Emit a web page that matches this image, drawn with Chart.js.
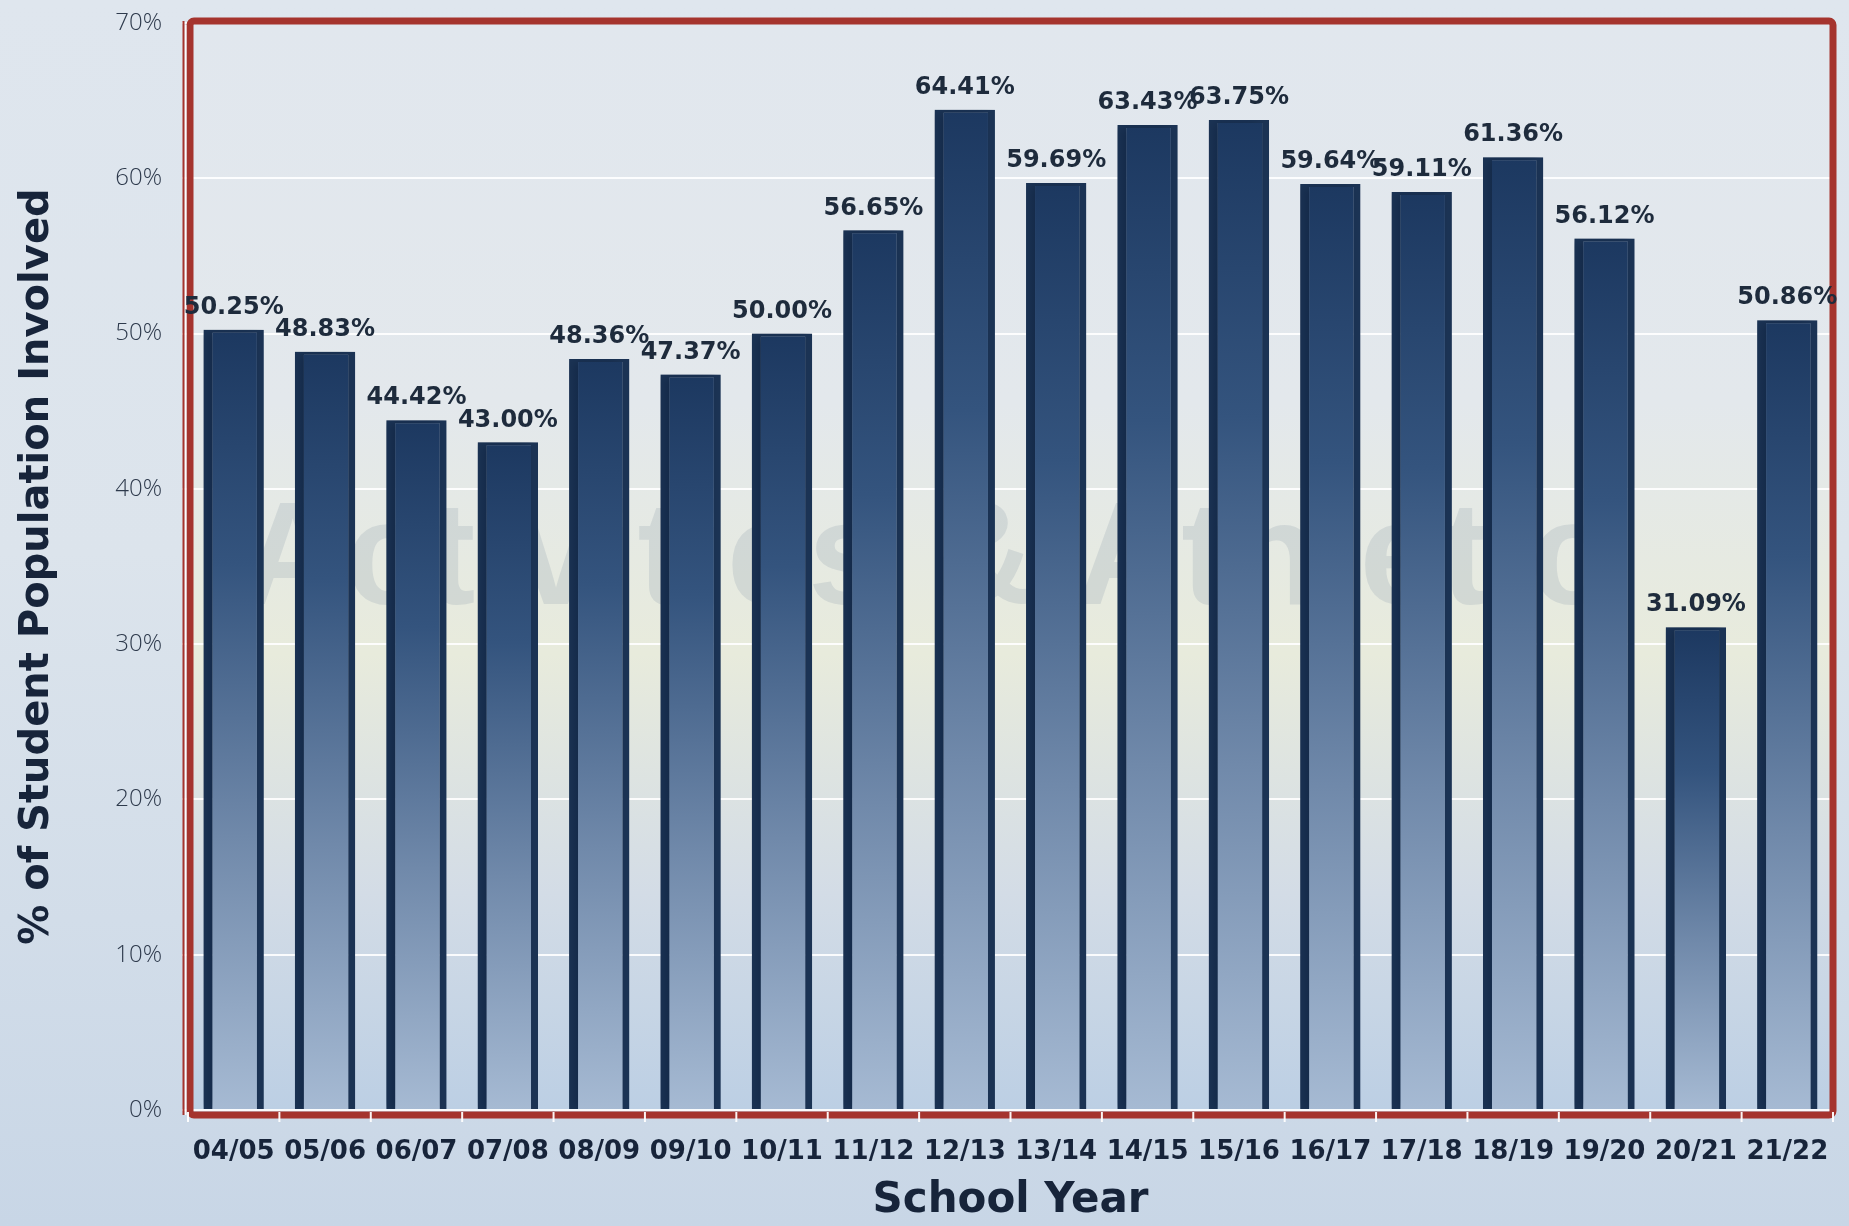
<!DOCTYPE html>
<html><head><meta charset="utf-8">
<script src="https://cdn.jsdelivr.net/npm/chart.js@4/dist/chart.umd.min.js"></script>
<style>
html,body{margin:0;padding:0;}
body{width:1849px;height:1226px;overflow:hidden;background:linear-gradient(180deg,#dfe6ee 0%,#dce4ec 45%,#d2dde9 75%,#c8d6e6 100%);}
#wrap{position:absolute;left:0;top:0;width:1849px;height:1226px;}
</style></head><body><div id="wrap"><canvas id="c"></canvas></div>
<script>
const categories = ['04/05','05/06','06/07','07/08','08/09','09/10','10/11','11/12','12/13','13/14','14/15','15/16','16/17','17/18','18/19','19/20','20/21','21/22'];
const values = [50.25,48.83,44.42,43.00,48.36,47.37,50.00,56.65,64.41,59.69,63.43,63.75,59.64,59.11,61.36,56.12,31.09,50.86];
const yTickValues = [0,10,20,30,40,50,60,70];
const xTitle = 'School Year';
const yTitle = '% of Student Population Involved';
const watermark = 'Activities & Athletic';

const BAR_EDGE = '#1b3354';

function barFill(context){
  const chart = context.chart;
  const a = chart.chartArea;
  if (!a || !chart.scales.y) return '#3d5d85';
  const v = context.raw;
  const yTop = chart.scales.y.getPixelForValue(v);
  const g = chart.ctx.createLinearGradient(0, yTop, 0, a.bottom);
  g.addColorStop(0, '#1c3860');
  g.addColorStop(0.3, '#34547e');
  g.addColorStop(0.65, '#7089aa');
  g.addColorStop(1, '#a6bad3');
  return g;
}

const deco = {
  id: 'deco',
  beforeDraw(chart){
    const {ctx, chartArea:a} = chart;
    const g = ctx.createLinearGradient(0, a.top, 0, a.bottom);
    g.addColorStop(0, '#e1e7ee');
    g.addColorStop(0.35, '#e3e8ec');
    g.addColorStop(0.58, '#e8ebdc');
    g.addColorStop(0.8, '#d3dce6');
    g.addColorStop(1, '#bccfe4');
    ctx.save();
    ctx.fillStyle = g;
    ctx.fillRect(a.left, a.top, a.right - a.left, a.bottom - a.top);
    ctx.restore();
  },
  beforeDatasetsDraw(chart){
    const {ctx} = chart;
    ctx.save();
    ctx.font = 'bold 146px "Liberation Sans", Arial, sans-serif';
    ctx.fillStyle = 'rgba(165,176,188,0.32)';
    ctx.textAlign = 'left';
    ctx.textBaseline = 'alphabetic';
    ctx.fillText(watermark, 240, 604);
    ctx.restore();
    ctx.save();
    ctx.shadowColor = 'rgba(15,35,65,0.6)';
    ctx.shadowBlur = 9;
    ctx.shadowOffsetX = -5;
    ctx.shadowOffsetY = 0;
  },
  afterDatasetsDraw(chart){
    const {ctx, chartArea:a} = chart;
    ctx.restore();
    // frame
    ctx.save();
    ctx.strokeStyle = '#a5342e';
    ctx.lineWidth = 7;
    ctx.lineJoin = 'round';
    ctx.beginPath();
    ctx.roundRect(a.left + 2, a.top - 2, a.right - a.left - 2, a.bottom - a.top + 7, 4);
    ctx.stroke();
    ctx.lineWidth = 2;
    ctx.strokeStyle = 'rgba(255,255,255,0.9)';
    ctx.beginPath();
    ctx.moveTo(a.left - 2.5, a.top + 2);
    ctx.lineTo(a.left - 2.5, a.bottom + 5);
    ctx.stroke();
    ctx.strokeStyle = '#a5342e';
    ctx.beginPath();
    ctx.moveTo(a.left - 4.5, a.top - 2);
    ctx.lineTo(a.left - 4.5, a.bottom + 5);
    ctx.stroke();
    // bottom white ticks at category boundaries
    const step = (a.right - a.left) / categories.length;
    ctx.strokeStyle = 'rgba(255,255,255,0.95)';
    ctx.lineWidth = 2;
    for (let i = 0; i <= categories.length; i++) {
      const x = a.left + i * step;
      ctx.beginPath();
      ctx.moveTo(x, a.bottom + 2);
      ctx.lineTo(x, a.bottom + 12);
      ctx.stroke();
    }
    // data labels
    const meta = chart.getDatasetMeta(0);
    ctx.fillStyle = '#1e2b3c';
    ctx.font = 'bold 24px "DejaVu Sans", sans-serif';
    ctx.textAlign = 'center';
    ctx.textBaseline = 'bottom';
    meta.data.forEach((bar, i) => {
      ctx.fillText(values[i].toFixed(2) + '%', bar.x, bar.y - 10);
    });
    ctx.restore();
  }
};

new Chart(document.getElementById('c'), {
  type: 'bar',
  data: {
    labels: categories,
    datasets: [{
      data: values,
      backgroundColor: barFill,
      borderColor: BAR_EDGE,
      borderWidth: {left: 9, right: 7, top: 3, bottom: 0},
      borderSkipped: false,
      barPercentage: 0.66,
      categoryPercentage: 1.0
    }]
  },
  options: {
    responsive: true,
    maintainAspectRatio: false,
    devicePixelRatio: 1,
    animation: false,
    layout: {padding: {top: 23, right: 16, left: 0, bottom: 0}},
    plugins: {legend: {display: false}, tooltip: {enabled: false}},
    scales: {
      x: {
        offset: true,
        grid: {display: false},
        border: {display: false},
        ticks: {
          color: '#17243a',
          font: {family: '"DejaVu Sans", sans-serif', weight: 'bold', size: 26},
          padding: 19,
          maxRotation: 0,
          autoSkip: false
        },
        title: {
          display: true,
          text: xTitle,
          color: '#17243a',
          font: {family: '"DejaVu Sans", sans-serif', weight: 'bold', size: 42},
          padding: {top: 0, bottom: 0}
        },
        afterFit(scale){ scale.height = 116; }
      },
      y: {
        min: 0,
        max: 70,
        afterBuildTicks(scale){ scale.ticks = yTickValues.map(v => ({value: v})); },
        grid: {color: 'rgba(255,255,255,0.9)', lineWidth: 2, tickLength: 6, drawTicks: true},
        border: {display: false},
        ticks: {
          color: '#2e3a4c',
          font: {family: '"Open Sans", sans-serif', weight: '300', size: 24},
          padding: 20,
          callback: v => v + '%'
        },
        title: {
          display: true,
          text: yTitle,
          color: '#17243a',
          font: {family: '"DejaVu Sans", sans-serif', weight: 'bold', size: 40},
          padding: {top: 14, bottom: 0}
        },
        afterFit(scale){ scale.width = 188; scale.paddingTop = 0; scale.paddingBottom = 0; }
      }
    }
  },
  plugins: [deco]
});
</script>
</body></html>
